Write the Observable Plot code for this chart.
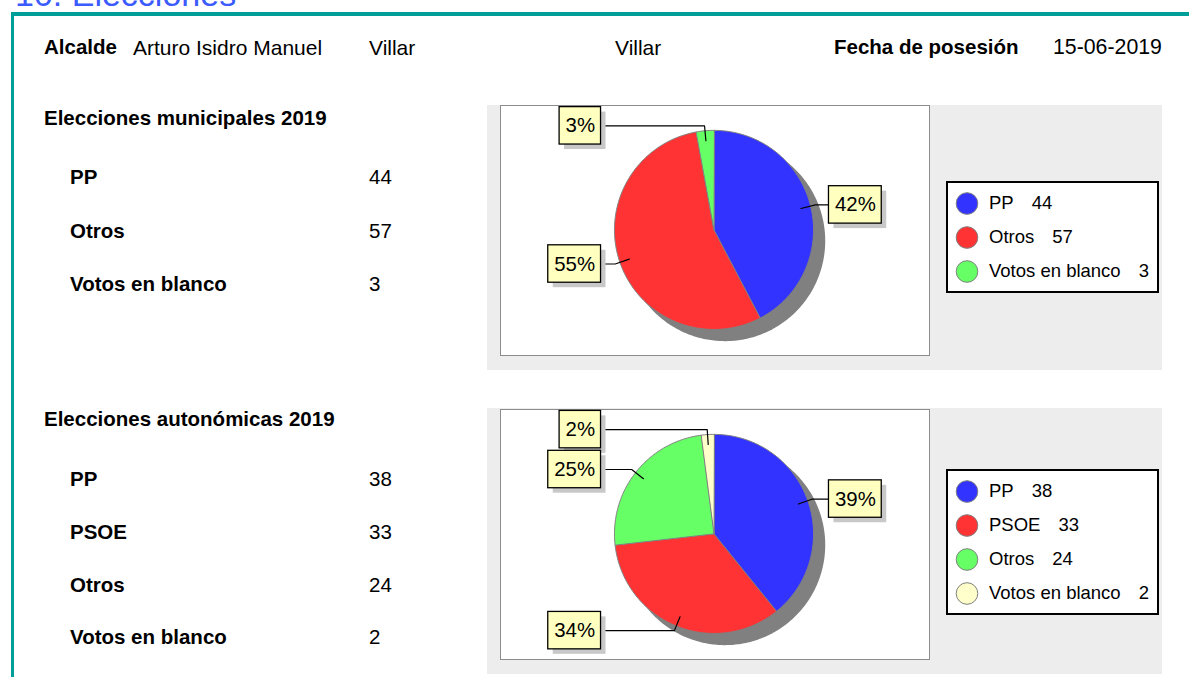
<!DOCTYPE html>
<html><head><meta charset="utf-8">
<script src="https://cdn.jsdelivr.net/npm/d3@7"></script>
<script src="https://cdn.jsdelivr.net/npm/@observablehq/plot@0.6"></script>
<style>
html,body{margin:0;padding:0;background:#fff;}
#page{position:relative;width:1189px;height:677px;overflow:hidden;font-family:"Liberation Sans",Arial,Helvetica,sans-serif;color:#000;}
.t{position:absolute;white-space:nowrap;line-height:1;}
.b{font-weight:bold;}
</style></head><body><div id="page"></div>
<script>
// ---------- data ----------
const pageTitle = "10. Elecciones";
const headerLabels = ["Alcalde", "Fecha de posesión"];
const mayorParts = ["Arturo Isidro Manuel", "Villar", "Villar"];
const possessionDate = "15-06-2019";

const municipalTitle = "Elecciones municipales 2019";
const municipalParties = ["PP", "Otros", "Votos en blanco"];
const municipalVotes = [44, 57, 3];
const municipalColors = ["#3333ff", "#ff3333", "#66ff66"];

const autonomicTitle = "Elecciones autonómicas 2019";
const autonomicParties = ["PP", "PSOE", "Otros", "Votos en blanco"];
const autonomicVotes = [38, 33, 24, 2];
const autonomicColors = ["#3333ff", "#ff3333", "#66ff66", "#ffffcc"];

// ---------- helpers ----------
const FONT = '"Liberation Sans", Arial, Helvetica, sans-serif';
const page = document.getElementById("page");
const ctx = document.createElement("canvas").getContext("2d");
function measure(str, size, bold) {
  ctx.font = (bold ? "bold " : "") + size + "px " + FONT;
  return ctx.measureText(str).width;
}
function addText(str, x, cy, size, bold, color) {
  const d = document.createElement("div");
  d.className = "t" + (bold ? " b" : "");
  d.textContent = str;
  d.style.left = x + "px";
  d.style.top = (cy - 0.49 * size) + "px";
  d.style.fontSize = size + "px";
  if (color) d.style.color = color;
  page.appendChild(d);
  return d;
}
function addBox(x, y, w, h, css) {
  const d = document.createElement("div");
  d.style.position = "absolute";
  d.style.left = x + "px"; d.style.top = y + "px";
  d.style.width = w + "px"; d.style.height = h + "px";
  d.style.boxSizing = "border-box";
  Object.assign(d.style, css || {});
  page.appendChild(d);
  return d;
}

// ---------- frame & header ----------
const title = addText(pageTitle, 15, 0, 34, false, "#3b5bff");
title.style.top = (5.5 - 0.8465 * 34) + "px";
addBox(11, 12, 1200, 700, {borderTop: "4.5px solid #009e98", borderLeft: "3px solid #009e98"});

addText(headerLabels[0], 44, 47.5, 20.5, true);
addText(mayorParts[0], 133, 47.5, 21, false);
addText(mayorParts[1], 369, 47.5, 21, false);
addText(mayorParts[2], 615, 47.5, 21, false);
addText(headerLabels[1], 834, 47.5, 20.5, true);
addText(possessionDate, 1053, 47.5, 21.3, false);

// ---------- pie chart ----------
function pieChart(parties, votes, colors) {
  const W = 430, H = 251, cx = 214.5, cy = 125, px = 100;
  const total = d3.sum(votes);
  const arcs = d3.pie().sort(null).value(d => d.v)(parties.map((p, i) => ({p, v: votes[i]})));
  const pts = [];
  arcs.forEach(a => {
    pts.push({p: a.data.p, x: 0, y: 0});
    const n = Math.max(2, Math.ceil((a.endAngle - a.startAngle) / (Math.PI / 180)));
    for (let k = 0; k <= n; k++) {
      const t = a.startAngle + (a.endAngle - a.startAngle) * k / n;
      pts.push({p: a.data.p, x: Math.sin(t), y: Math.cos(t)});
    }
  });
  const labels = [], leaders = [];
  arcs.forEach(a => {
    const m = (a.startAngle + a.endAngle) / 2;
    const s = Math.sin(m), c = Math.cos(m);
    const text = Math.round(a.data.v / total * 100) + "%";
    const w = (measure(text, 20.5, false) + 12) / px;
    const ex = 1.05 * s, ey = 1.05 * c;
    const right = s >= 0;
    const x1 = right ? 1.155 : -1.135 - w;
    const x2 = x1 + w;
    const edge = right ? x1 : x2;
    labels.push({text, x1, x2, y1: ey - 0.188, y2: ey + 0.188, cx: (x1 + x2) / 2, ey});
    leaders.push({id: text + a.index, x: 0.9 * s, y: 0.9 * c});
    leaders.push({id: text + a.index, x: ex, y: ey});
    leaders.push({id: text + a.index, x: edge, y: ey});
  });
  return Plot.plot({
    width: W, height: H, margin: 0,
    x: {domain: [-cx / px, (W - cx) / px], axis: null},
    y: {domain: [-(H - cy) / px, cy / px], axis: null},
    color: {domain: parties, range: colors},
    style: {background: "transparent", fontFamily: FONT, overflow: "visible"},
    marks: [
      Plot.line(pts, {x: "x", y: "y", z: "p", fill: "#808080", stroke: "#808080", curve: "linear-closed", dx: 11, dy: 11}),
      Plot.line(pts, {x: "x", y: "y", z: "p", fill: "p", stroke: "#808080", strokeWidth: 1, curve: "linear-closed"}),
      Plot.line(leaders, {x: "x", y: "y", z: "id", stroke: "#000", strokeWidth: 1.2}),
      Plot.rect(labels, {x1: "x1", x2: "x2", y1: "y1", y2: "y2", fill: "#c8c8c8", dx: 5, dy: 5}),
      Plot.rect(labels, {x1: "x1", x2: "x2", y1: "y1", y2: "y2", fill: "#ffffc0", stroke: "#000", strokeWidth: 1.3}),
      Plot.text(labels, {x: "cx", y: "ey", text: "text", fontSize: 20.5, fill: "#000"})
    ]
  });
}

// ---------- legend ----------
function legendChart(parties, votes, colors, w, h) {
  const data = parties.map((p, i) => ({p, v: votes[i]}));
  const fs = 18.5, tx = 40.5, gap = 18;
  return Plot.plot({
    width: w, height: h, margin: 0,
    x: {domain: [0, w], range: [0, w], axis: null},
    y: {type: "point", domain: parties, range: [19.5, 19.5 + 34 * (parties.length - 1)], padding: 0, axis: null},
    color: {domain: parties, range: colors},
    style: {background: "transparent", fontFamily: FONT, overflow: "visible"},
    marks: [
      Plot.dot(data, {x: () => 18.5, y: "p", r: 10.8, fill: "p", stroke: "#808080", strokeWidth: 1}),
      Plot.text(data, {x: () => tx, y: "p", text: "p", textAnchor: "start", fontSize: fs, fill: "#000"}),
      Plot.text(data, {x: d => tx + measure(d.p, fs, false) + gap, y: "p", text: d => String(d.v), textAnchor: "start", fontSize: fs, fill: "#000"})
    ]
  });
}

// ---------- sections ----------
function section(cfg) {
  addText(cfg.title, 44, cfg.titleY, 20.5, true);
  cfg.parties.forEach((p, i) => {
    const y = cfg.rowY0 + i * cfg.rowStep;
    addText(p, 70, y, 20.5, true);
    addText(String(cfg.votes[i]), 369, y, 20.5, false);
  });
  addBox(487, cfg.panelTop, 675, cfg.panelBottom - cfg.panelTop, {background: "#ededed"});
  const box = addBox(500, cfg.boxTop, 430, 251, {background: "#fff", border: "1px solid #8c8c8c"});
  const svg = pieChart(cfg.parties, cfg.votes, cfg.colors);
  svg.style.position = "absolute"; svg.style.left = "-1px"; svg.style.top = "-1px";
  box.appendChild(svg);
  const lh = 34 * cfg.parties.length + 10;
  const lg = addBox(946, cfg.legendTop, 213, lh, {background: "#fff", border: "2.5px solid #000"});
  const lsvg = legendChart(cfg.parties, cfg.votes, cfg.colors, 208, lh - 5);
  lsvg.style.position = "absolute"; lsvg.style.left = "0px"; lsvg.style.top = "0px";
  lg.appendChild(lsvg);
}

section({title: municipalTitle, parties: municipalParties, votes: municipalVotes, colors: municipalColors,
  titleY: 118, rowY0: 177.5, rowStep: 53.25, panelTop: 104.5, panelBottom: 370, boxTop: 105, legendTop: 180.7});
section({title: autonomicTitle, parties: autonomicParties, votes: autonomicVotes, colors: autonomicColors,
  titleY: 419.2, rowY0: 478.8, rowStep: 52.9, panelTop: 408.3, panelBottom: 674, boxTop: 409, legendTop: 468.5});
</script></body></html>
